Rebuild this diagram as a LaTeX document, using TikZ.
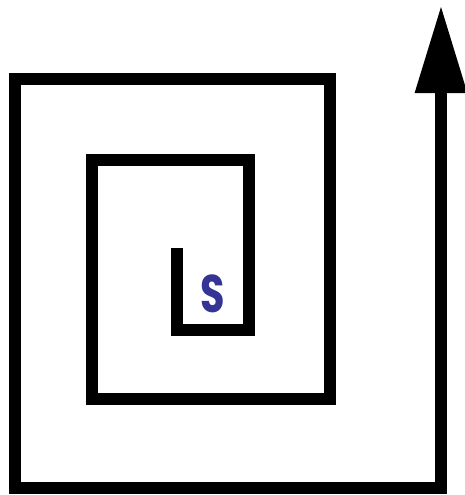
\documentclass[tikz,border=0pt]{standalone}
\usepackage{fontspec}
\usepackage{tikz}
\usetikzlibrary{arrows.meta}
\newfontfamily\slabelfont{Poppins}
\definecolor{sblue}{RGB}{52,52,150}

\begin{document}
\begin{tikzpicture}[x=1pt,y=-1pt]
        \useasboundingbox (0,0) rectangle (464,495);
        \coordinate (s0) at (177,248); \coordinate (s1) at (177,330);
        \coordinate (s2) at (249,330); \coordinate (s3) at (249,160);
        \coordinate (s4) at (92,160);  \coordinate (s5) at (92,399);
        \coordinate (s6) at (330,399); \coordinate (s7) at (330,79);
        \coordinate (s8) at (15,79);   \coordinate (s9) at (15,488);
        \coordinate (s10) at (441,488); \coordinate (s11) at (441,5);
        \draw[line width=12.5pt,-{Triangle[length=88pt,width=49pt]}]
            (s0) \foreach \i in {1,...,11}{ -- (s\i) };
        \node[text=sblue,xscale=0.75,font=\slabelfont\bfseries\fontsize{53}{53}\selectfont] (start) at (213,294) {S};
    \end{tikzpicture}
\end{document}
